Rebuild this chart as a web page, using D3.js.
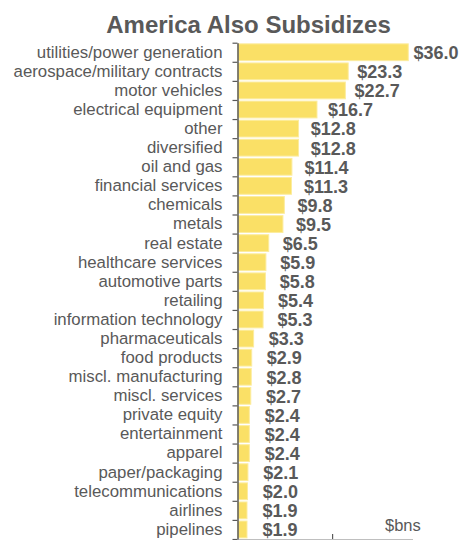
<!DOCTYPE html>
<html>
<head>
<meta charset="utf-8">
<script src="https://cdn.jsdelivr.net/npm/d3@7"></script>
<style>
	body { margin: 0; background: #fff; }
	text { font-family: "Liberation Sans", Arial, sans-serif; }
</style>
</head>
<body>
<div id="chart"></div>
<script>
var categories = [
	"utilities/power generation", "aerospace/military contracts", "motor vehicles",
	"electrical equipment", "other", "diversified", "oil and gas", "financial services",
	"chemicals", "metals", "real estate", "healthcare services", "automotive parts",
	"retailing", "information technology", "pharmaceuticals", "food products",
	"miscl. manufacturing", "miscl. services", "private equity", "entertainment",
	"apparel", "paper/packaging", "telecommunications", "airlines", "pipelines"
];
var values = [36.0, 23.3, 22.7, 16.7, 12.8, 12.8, 11.4, 11.3, 9.8, 9.5, 6.5, 5.9, 5.8,
	5.4, 5.3, 3.3, 2.9, 2.8, 2.7, 2.4, 2.4, 2.4, 2.1, 2.0, 1.9, 1.9];
var xTicks = [20];

(function () {
	var svgwidth = 463;
	var svgheight = 540;
	var gray = "#595959";

	var data = categories.map(function (c, i) {
		return { name: c, value: values[i] };
	});

	var svg = d3.select("#chart")
		.append("svg")
		.attr("width", svgwidth)
		.attr("height", svgheight);

	var plotLeft = 237.5, plotRight = 412.5, plotTop = 42.7, plotBottom = 539;

	var x = d3.scaleLinear().domain([0, 37]).range([plotLeft, plotRight]);
	// value labels drift a little behind the bar ends in the original
	var xLabel = d3.scaleLinear().domain([0, 37]).range([254, 418]);
	var y = d3.scaleBand().domain(categories).range([plotTop, plotBottom]).paddingInner(0.12).paddingOuter(0.06);
	var yEdge = d3.scaleLinear().domain([0, categories.length]).range([plotTop, plotBottom]);

	svg.append("text")
		.attr("x", 248.5)
		.attr("y", 33)
		.attr("text-anchor", "middle")
		.style("font-size", "24px")
		.style("font-weight", "bold")
		.attr("fill", gray)
		.text("America Also Subsidizes");

	svg.selectAll("rect.bar")
		.data(data)
		.enter()
		.append("rect")
		.attr("class", "bar")
		.attr("x", x(0) + 0.5)
		.attr("y", function (d) { return y(d.name); })
		.attr("width", function (d) { return x(d.value) - x(0); })
		.attr("height", y.bandwidth())
		.attr("fill", "#fae066")
		.attr("stroke", "#fcec9e")
		.attr("stroke-width", 1);

	svg.selectAll("text.val")
		.data(data)
		.enter()
		.append("text")
		.attr("class", "val")
		.attr("x", function (d) { return xLabel(d.value); })
		.attr("y", function (d) { return y(d.name) + y.bandwidth() / 2; })
		.attr("dy", "0.38em")
		.style("font-size", "18px")
		.style("font-weight", "bold")
		.attr("fill", gray)
		.text(function (d) { return "$" + d.value.toFixed(1); });

	// bottom axis
	var xAxis = svg.append("g")
		.attr("transform", "translate(0," + plotBottom + ")")
		.call(d3.axisBottom(x).tickValues(xTicks).tickSize(-5).tickSizeOuter(0).tickFormat(""));
	xAxis.select(".domain").attr("stroke", "#bfbfbf").attr("stroke-width", 1.2);
	xAxis.selectAll(".tick line").attr("stroke", gray).attr("stroke-width", 1.2);

	// left axis ticks at category edges
	var edgeAxis = svg.append("g")
		.attr("transform", "translate(" + plotLeft + ",0)")
		.call(d3.axisLeft(yEdge).ticks(categories.length).tickSize(5).tickSizeOuter(0).tickFormat(""));
	edgeAxis.select(".domain").attr("stroke", gray).attr("stroke-width", 1.5);
	edgeAxis.selectAll(".tick line").attr("stroke", gray).attr("stroke-width", 1.2);

	// category labels
	var labelAxis = svg.append("g")
		.attr("transform", "translate(" + plotLeft + ",0)")
		.call(d3.axisLeft(y).tickSize(0).tickPadding(15));
	labelAxis.select(".domain").remove();
	labelAxis.selectAll("text")
		.attr("fill", gray)
		.style("font-size", "16.8px")
		.style("font-family", "'Liberation Sans', Arial, sans-serif");

	svg.append("text")
		.attr("x", 385)
		.attr("y", 531)
		.style("font-size", "16.5px")
		.attr("fill", gray)
		.text("$bns");
})();
</script>
</body>
</html>
